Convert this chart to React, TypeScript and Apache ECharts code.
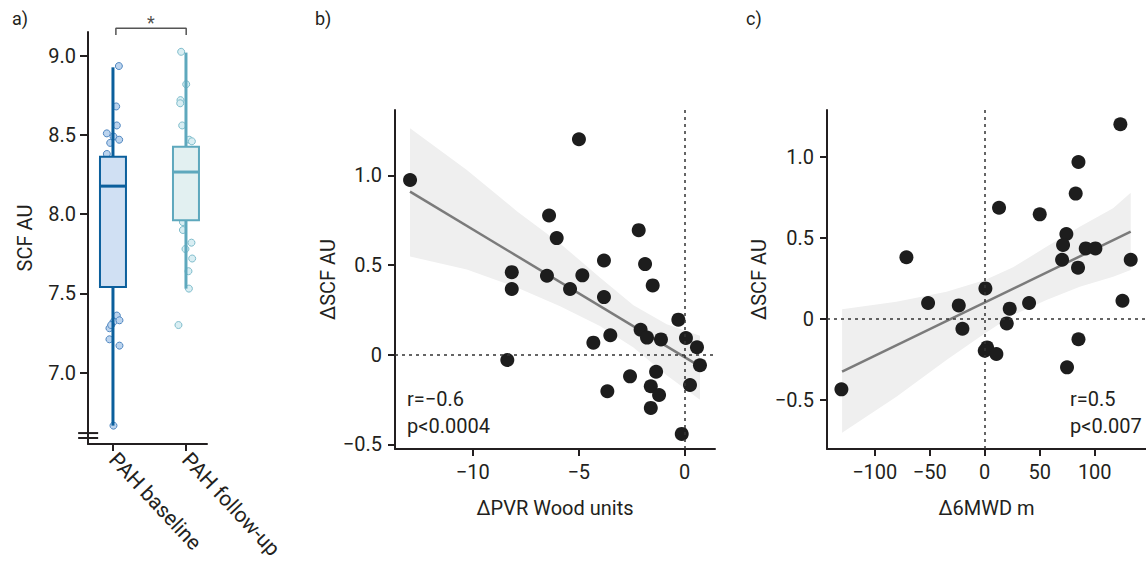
import React, { useEffect, useRef } from 'react';
import * as echarts from 'echarts';

// ---------- Panel a: SCF boxplots ----------
const groupNames = ['PAH baseline', 'PAH follow-up'];
// [group, min, Q1, median, Q3, max]
const boxStats = [
  [0, 6.665, 7.54, 8.177, 8.363, 8.927],
  [1, 7.53, 7.962, 8.266, 8.426, 9.02],
];
const baselinePoints = [
  [0.081, 8.935], [0.044, 8.68], [0.053, 8.56], [-0.084, 8.51], [0.007, 8.49],
  [-0.038, 8.45], [0.085, 8.47], [-0.084, 8.38], [0.053, 7.36], [0.007, 7.32],
  [0.089, 7.33], [-0.048, 7.28], [-0.025, 7.3], [-0.048, 7.21], [0.089, 7.17],
  [0.007, 6.665],
];
const followupPoints = [
  [0.934, 9.025], [1.003, 8.82], [0.925, 8.72], [0.921, 8.7], [0.948, 8.56],
  [1.044, 8.47], [1.081, 8.46], [0.958, 7.95], [0.958, 7.9], [1.075, 7.82],
  [0.993, 7.78], [1.085, 7.72], [1.034, 7.64], [1.04, 7.53], [0.897, 7.3],
];
const aYTicks = [7.0, 7.5, 8.0, 8.5, 9.0];
const aXTicks = [0, 1];
const sigBracket = [[0.04, 9.131], [0.04, 9.173], [1.003, 9.173], [1.003, 9.131]];
const sigStar = [[0.52, 9.152]];
// axis break marks: [x1, x2, y]
const breakMarks = [
  [-0.477, -0.203, 6.587],
  [-0.477, -0.203, 6.618],
];

// ---------- Panel b: ΔPVR vs ΔSCF ----------
const pvrPoints = [
  [-12.96, 0.974], [-4.99, 1.201], [-6.4, 0.776], [-6.04, 0.65], [-2.17, 0.694],
  [-3.81, 0.525], [-1.87, 0.505], [-8.16, 0.46], [-6.5, 0.44], [-4.83, 0.442],
  [-1.51, 0.386], [-8.16, 0.366], [-5.41, 0.366], [-3.81, 0.321], [-0.3, 0.195],
  [-2.08, 0.139], [-3.51, 0.108], [-1.78, 0.095], [-1.12, 0.085], [0.06, 0.093],
  [-4.31, 0.067], [0.58, 0.041], [-8.37, -0.03], [0.72, -0.059], [-1.35, -0.095],
  [-2.58, -0.121], [-1.6, -0.176], [0.25, -0.169], [-1.21, -0.225], [-3.65, -0.204],
  [-1.6, -0.297], [-0.14, -0.442],
];
const pvrFit = [[-12.96, 0.909], [0.72, -0.065]];
const pvrBandUpper = [
  [-12.96, 1.262], [-10.28, 1.03], [-7.92, 0.8], [-5.88, 0.62], [-4.0, 0.43],
  [-2.42, 0.275], [-0.85, 0.17], [0.72, 0.106],
];
const pvrBandLower = [
  [-12.96, 0.547], [-10.28, 0.475], [-7.92, 0.375], [-5.88, 0.27], [-4.0, 0.16],
  [-2.42, 0.04], [-0.85, -0.115], [0.72, -0.251],
];
const bXTicks = [-10, -5, 0];
const deltaYTicks = [-0.5, 0, 0.5, 1.0];

// ---------- Panel c: Δ6MWD vs ΔSCF ----------
const mwdPoints = [
  [123.3, 1.202], [85.2, 0.969], [82.7, 0.774], [13.0, 0.687], [50.0, 0.646],
  [74.2, 0.525], [71.2, 0.457], [91.8, 0.436], [100.6, 0.436], [-71.2, 0.381],
  [70.3, 0.366], [132.7, 0.366], [84.8, 0.317], [0.6, 0.189], [-51.5, 0.099],
  [-23.6, 0.084], [40.3, 0.099], [125.2, 0.113], [22.7, 0.064], [20.0, -0.027],
  [-20.3, -0.06], [85.2, -0.125], [2.1, -0.175], [0, -0.196], [10.6, -0.216],
  [74.8, -0.298], [-130.3, -0.434],
];
const mwdFit = [[-129.7, -0.325], [132.7, 0.539]];
const mwdBandUpper = [
  [-129.7, 0.06], [-80.3, 0.107], [-34.8, 0.169], [0.3, 0.241], [25.8, 0.319],
  [56.1, 0.446], [86.4, 0.57], [116.7, 0.683], [132.7, 0.78],
];
const mwdBandLower = [
  [-129.7, -0.702], [-80.3, -0.48], [-34.8, -0.253], [0.3, -0.088], [25.8, 0.025],
  [56.1, 0.117], [86.4, 0.199], [116.7, 0.261], [132.7, 0.302],
];
const cXTicks = [-100, -50, 0, 50, 100];

// ---------- styles ----------
const INK = '#231f20';
const FONT = 'Roboto, "DejaVu Sans", sans-serif';
const FS = 20;
const boxColors = [
  { stroke: '#0b5f9c', fill: '#d0e0f3', pointFill: '#bcd4ee', pointStroke: '#4f86c0' },
  { stroke: '#5ea8bd', fill: '#e2f0f1', pointFill: '#d9eef3', pointStroke: '#7fbdcc' },
];

const minus = (s: string) => s.replace('-', '\u2212');
const fmtDeltaY = (v: number) => (v === 0 ? '0' : minus(v.toFixed(1)));
const fmtInt = (v: number) => minus(String(v));

function axisBase(extra: any) {
  return {
    type: 'value',
    axisLine: { show: true, onZero: false, lineStyle: { color: INK, width: 2 } },
    axisTick: { show: true, length: 7, lineStyle: { color: INK, width: 2 } },
    axisLabel: { color: INK, fontSize: FS, fontFamily: FONT, margin: 12 },
    splitLine: { show: false },
    nameLocation: 'middle',
    nameTextStyle: { color: INK, fontSize: FS, fontFamily: FONT },
    ...extra,
  };
}

function bandSeries(idx: number, upper: number[][], lower: number[][]) {
  return {
    type: 'custom',
    xAxisIndex: idx,
    yAxisIndex: idx,
    silent: true,
    z: 1,
    data: [[upper[0][0], upper[0][1]]],
    renderItem: (_p: any, api: any) => {
      const pts = upper.concat(lower.slice().reverse()).map((p) => api.coord(p));
      return { type: 'polygon', shape: { points: pts }, style: { fill: '#efefef' } };
    },
  };
}

function fitSeries(idx: number, data: number[][]) {
  return {
    type: 'line',
    xAxisIndex: idx,
    yAxisIndex: idx,
    data,
    symbol: 'none',
    silent: true,
    z: 2,
    lineStyle: { color: '#7b7b7b', width: 2.5 },
  };
}

function dotsSeries(idx: number, data: number[][]) {
  return {
    type: 'scatter',
    xAxisIndex: idx,
    yAxisIndex: idx,
    data,
    symbolSize: 14,
    z: 4,
    itemStyle: { color: '#1d1d1d', opacity: 1 },
    markLine: {
      silent: true,
      symbol: 'none',
      label: { show: false },
      lineStyle: { color: '#333', type: [3, 4], width: 1.5 },
      data: [{ yAxis: 0 }, { xAxis: 0 }],
    },
  };
}

export default function App() {
  const ref = useRef<HTMLDivElement>(null);
  useEffect(() => {
    if (!ref.current) return;
    const chart = echarts.init(ref.current, undefined, { renderer: 'svg' });
    const option: any = {
      animation: false,
      backgroundColor: '#ffffff',
      textStyle: { fontFamily: FONT },
      grid: [
        { left: 88, top: 32, width: 119, height: 412 },
        { left: 395, top: 110, width: 320, height: 339 },
        { left: 827, top: 110, width: 319, height: 339 },
      ],
      xAxis: [
        axisBase({
          gridIndex: 0,
          min: -0.342,
          max: 1.288,
          axisTick: { show: true, length: 7, lineStyle: { color: INK, width: 2 }, customValues: aXTicks },
          axisLabel: {
            color: INK, fontSize: 21, fontFamily: FONT, margin: 12, rotate: -47,
            customValues: aXTicks,
            formatter: (v: number) => groupNames[Math.round(v)] ?? '',
          },
        }),
        axisBase({
          gridIndex: 1,
          min: -13.67,
          max: 1.43,
          name: '\u0394PVR Wood units',
          nameGap: 49,
          axisTick: { show: true, length: 7, lineStyle: { color: INK, width: 2 }, customValues: bXTicks },
          axisLabel: { color: INK, fontSize: FS, fontFamily: FONT, margin: 13, customValues: bXTicks, formatter: fmtInt },
        }),
        axisBase({
          gridIndex: 2,
          min: -143.4,
          max: 146.6,
          name: '\u03946MWD m',
          nameGap: 49,
          axisTick: { show: true, length: 7, lineStyle: { color: INK, width: 2 }, customValues: cXTicks },
          axisLabel: { color: INK, fontSize: FS, fontFamily: FONT, margin: 13, customValues: cXTicks, formatter: fmtInt },
        }),
      ],
      yAxis: [
        axisBase({
          gridIndex: 0,
          min: 6.549,
          max: 9.15,
          name: 'SCF AU',
          nameGap: 53,
          axisTick: { show: true, length: 8, lineStyle: { color: INK, width: 2 }, customValues: aYTicks },
          axisLabel: { color: INK, fontSize: FS, fontFamily: FONT, margin: 12, customValues: aYTicks, formatter: (v: number) => v.toFixed(1) },
        }),
        axisBase({
          gridIndex: 1,
          min: -0.526,
          max: 1.364,
          name: '\u0394SCF AU',
          nameGap: 57,
          axisTick: { show: true, length: 7, lineStyle: { color: INK, width: 2 }, customValues: deltaYTicks },
          axisLabel: { color: INK, fontSize: FS, fontFamily: FONT, margin: 13, customValues: deltaYTicks, formatter: fmtDeltaY },
        }),
        axisBase({
          gridIndex: 2,
          min: -0.802,
          max: 1.29,
          name: '\u0394SCF AU',
          nameGap: 58,
          axisTick: { show: true, length: 7, lineStyle: { color: INK, width: 2 }, customValues: deltaYTicks },
          axisLabel: { color: INK, fontSize: FS, fontFamily: FONT, margin: 13, customValues: deltaYTicks, formatter: fmtDeltaY },
        }),
      ],
      graphic: [
        { type: 'text', left: 12, top: 9, style: { text: 'a)', fontSize: 18, fontFamily: FONT, fill: INK } },
        { type: 'text', left: 315, top: 9, style: { text: 'b)', fontSize: 18, fontFamily: FONT, fill: INK } },
        { type: 'text', left: 746, top: 9, style: { text: 'c)', fontSize: 18, fontFamily: FONT, fill: INK } },
        { type: 'text', left: 407, top: 385, style: { text: 'r=\u22120.6\np<0.0004', fontSize: FS, lineHeight: 27, fontFamily: FONT, fill: INK } },
        { type: 'text', left: 1070, top: 385, style: { text: 'r=0.5\np<0.007', fontSize: FS, lineHeight: 27, fontFamily: FONT, fill: INK } },
      ],
      series: [
        // panel a
        {
          type: 'scatter', xAxisIndex: 0, yAxisIndex: 0, data: baselinePoints, symbolSize: 7, z: 2,
          itemStyle: { color: boxColors[0].pointFill, borderColor: boxColors[0].pointStroke, borderWidth: 1, opacity: 1 },
        },
        {
          type: 'scatter', xAxisIndex: 0, yAxisIndex: 0, data: followupPoints, symbolSize: 7, z: 2,
          itemStyle: { color: boxColors[1].pointFill, borderColor: boxColors[1].pointStroke, borderWidth: 1, opacity: 1 },
        },
        {
          type: 'custom', xAxisIndex: 0, yAxisIndex: 0, z: 3, silent: true,
          data: boxStats,
          encode: { x: 0, y: [1, 2, 3, 4, 5] },
          renderItem: (params: any, api: any) => {
            const x = api.value(0);
            const lo = api.coord([x, api.value(1)]);
            const q1 = api.coord([x, api.value(2)]);
            const med = api.coord([x, api.value(3)]);
            const q3 = api.coord([x, api.value(4)]);
            const hi = api.coord([x, api.value(5)]);
            const half = api.size([0.356, 0])[0] / 2;
            const c = boxColors[params.dataIndex];
            return {
              type: 'group',
              children: [
                { type: 'line', shape: { x1: lo[0], y1: lo[1], x2: q1[0], y2: q1[1] }, style: { stroke: c.stroke, lineWidth: 3 } },
                { type: 'line', shape: { x1: hi[0], y1: hi[1], x2: q3[0], y2: q3[1] }, style: { stroke: c.stroke, lineWidth: 3 } },
                { type: 'rect', shape: { x: q3[0] - half, y: q3[1], width: half * 2, height: q1[1] - q3[1] }, style: { fill: c.fill, stroke: c.stroke, lineWidth: 2 } },
                { type: 'line', shape: { x1: med[0] - half, y1: med[1], x2: med[0] + half, y2: med[1] }, style: { stroke: c.stroke, lineWidth: 3 } },
              ],
            };
          },
        },
        {
          type: 'line', xAxisIndex: 0, yAxisIndex: 0, data: sigBracket, symbol: 'none', clip: false, silent: true,
          lineStyle: { color: '#555', width: 1.5 },
        },
        {
          type: 'scatter', xAxisIndex: 0, yAxisIndex: 0, data: sigStar, symbolSize: 0, clip: false, silent: true,
          label: { show: true, position: 'top', distance: 0, formatter: '*', fontSize: 18, fontFamily: FONT, color: INK },
        },
        {
          type: 'custom', xAxisIndex: 0, yAxisIndex: 0, z: 5, silent: true, clip: false,
          data: breakMarks,
          renderItem: (_p: any, api: any) => {
            const a = api.coord([api.value(0), api.value(2)]);
            const b = api.coord([api.value(1), api.value(2)]);
            return { type: 'line', shape: { x1: a[0], y1: a[1], x2: b[0], y2: b[1] }, style: { stroke: INK, lineWidth: 2 } };
          },
        },
        // panel b
        bandSeries(1, pvrBandUpper, pvrBandLower),
        fitSeries(1, pvrFit),
        dotsSeries(1, pvrPoints),
        // panel c
        bandSeries(2, mwdBandUpper, mwdBandLower),
        fitSeries(2, mwdFit),
        dotsSeries(2, mwdPoints),
      ],
    };
    chart.setOption(option);
    return () => chart.dispose();
  }, []);
  return <div ref={ref} style={{ position: 'fixed', left: 0, top: 0, width: 1146, height: 566 }} />;
}
